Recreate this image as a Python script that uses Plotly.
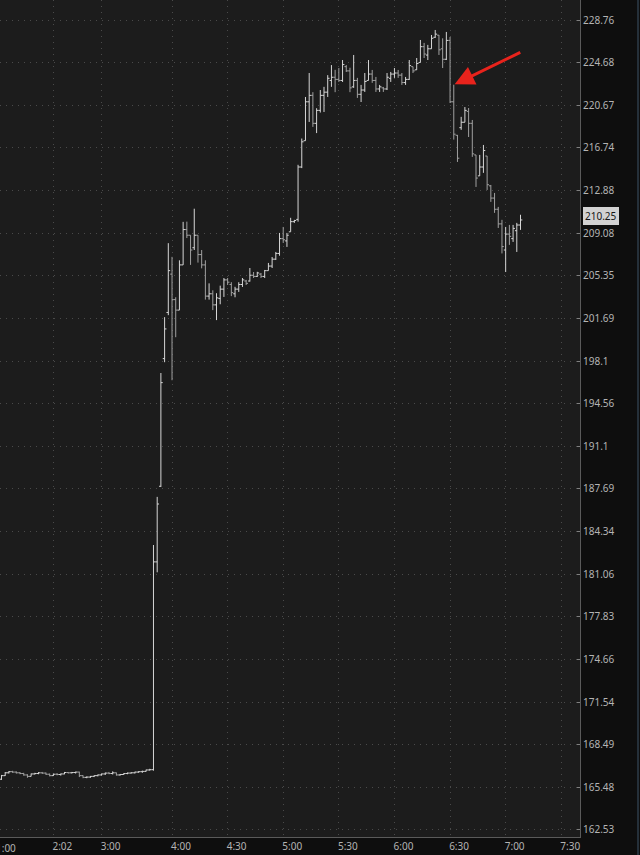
import math
import plotly.graph_objects as go

# ---------------- data ----------------
bar_index = list(range(141))

open_ = [166.05, 166.30, 166.50, 166.58, 166.55, 166.50, 166.45, 166.35, 166.25, 166.42,
         166.45, 166.50, 166.48, 166.40, 166.30, 166.40, 166.38, 166.42, 166.52, 166.50,
         166.52, 166.55, 166.30, 166.18, 166.20, 166.25, 166.30, 166.35, 166.42, 166.48,
         166.45, 166.50, 166.35, 166.38, 166.45, 166.48, 166.50, 166.55, 166.58, 166.60,
         166.70, 166.72, 182.00, 187.90, 198.30, 202.20, 205.50, 203.30, 202.40, 206.30,
         209.40, 208.90, 207.80, 208.90, 207.20, 206.30, 203.60, 203.80, 202.85, 203.40,
         204.20, 205.00, 204.60, 203.80, 204.20, 204.60, 204.90, 204.90, 205.40, 205.30,
         205.50, 205.30, 205.80, 206.20, 206.80, 207.30, 208.60, 208.40, 209.20, 210.10,
         210.30, 215.00, 217.40, 221.00, 221.60, 219.00, 220.20, 221.60, 221.90, 223.00,
         223.30, 223.10, 223.00, 224.30, 223.90, 222.40, 223.00, 221.70, 222.10, 223.00,
         223.60, 223.00, 222.20, 222.30, 222.20, 223.20, 223.60, 223.70, 223.50, 222.80,
         223.10, 224.30, 224.00, 224.70, 226.20, 225.40, 226.00, 227.10, 227.30, 226.00,
         225.00, 226.80, 221.00, 217.90, 218.60, 219.10, 220.10, 219.00, 216.10, 214.20,
         215.00, 216.00, 213.30, 212.20, 211.20, 209.90, 207.60, 209.00, 208.60, 209.30,
         209.80]

high = [166.35, 166.55, 166.62, 166.64, 166.60, 166.55, 166.50, 166.40, 166.45, 166.50,
        166.55, 166.56, 166.52, 166.45, 166.45, 166.48, 166.45, 166.56, 166.56, 166.56,
        166.58, 166.58, 166.32, 166.25, 166.28, 166.32, 166.38, 166.45, 166.52, 166.56,
        166.60, 166.52, 166.42, 166.48, 166.52, 166.55, 166.58, 166.62, 166.65, 166.72,
        166.78, 183.30, 187.06, 197.10, 201.80, 208.20, 207.00, 203.50, 206.70, 210.08,
        210.10, 208.90, 211.25, 208.90, 207.60, 206.70, 204.70, 204.10, 203.85, 204.50,
        205.16, 205.16, 204.80, 204.40, 204.80, 205.16, 205.00, 206.03, 205.68, 205.70,
        205.60, 205.86, 206.47, 206.99, 207.43, 209.10, 209.63, 209.10, 210.44, 210.26,
        215.20, 217.60, 221.45, 223.70, 221.90, 220.40, 222.10, 222.40, 223.50, 224.45,
        224.00, 224.17, 224.93, 224.45, 224.20, 225.41, 223.24, 222.58, 223.70, 224.93,
        223.99, 223.33, 222.58, 222.39, 223.70, 223.80, 224.17, 223.99, 223.70, 223.33,
        224.93, 224.30, 225.12, 226.84, 226.56, 226.37, 227.32, 227.80, 227.32, 227.00,
        227.61, 227.13, 222.60, 217.93, 219.60, 220.51, 220.42, 219.31, 216.10, 216.10,
        217.01, 216.00, 213.38, 212.66, 211.41, 210.26, 209.63, 209.81, 209.81, 209.99,
        210.71]

low = [166.00, 166.28, 166.45, 166.50, 166.45, 166.40, 166.30, 166.15, 166.25, 166.38,
       166.40, 166.42, 166.35, 166.25, 166.28, 166.32, 166.30, 166.40, 166.45, 166.45,
       166.45, 166.20, 166.12, 166.12, 166.15, 166.20, 166.25, 166.30, 166.35, 166.40,
       166.38, 166.30, 166.30, 166.35, 166.40, 166.45, 166.45, 166.50, 166.50, 166.58,
       166.65, 166.65, 181.20, 187.85, 198.00, 201.97, 196.50, 200.10, 202.40, 206.30,
       208.65, 206.30, 207.60, 206.50, 206.00, 203.30, 203.30, 202.40, 201.55, 202.90,
       203.53, 204.56, 203.60, 203.50, 203.96, 204.39, 204.56, 204.85, 205.16, 205.25,
       205.16, 205.16, 205.80, 206.03, 206.73, 207.10, 208.22, 207.87, 209.20, 209.99,
       210.10, 214.90, 217.40, 219.13, 218.67, 218.10, 220.00, 220.05, 221.45, 222.40,
       221.90, 222.86, 222.86, 223.80, 221.90, 222.30, 221.36, 220.98, 221.92, 223.00,
       222.77, 221.92, 221.92, 221.92, 222.10, 222.86, 223.24, 223.24, 222.58, 222.58,
       223.05, 223.70, 223.99, 224.70, 225.12, 224.93, 226.00, 227.04, 225.41, 224.17,
       224.93, 220.89, 217.50, 215.46, 218.40, 219.10, 217.74, 215.92, 213.20, 214.20,
       214.47, 212.93, 211.86, 210.88, 209.54, 207.30, 205.68, 208.05, 208.31, 207.43,
       209.37]

close = [166.30, 166.50, 166.58, 166.55, 166.50, 166.45, 166.35, 166.25, 166.42, 166.45,
         166.50, 166.48, 166.40, 166.30, 166.40, 166.38, 166.42, 166.52, 166.50, 166.52,
         166.55, 166.30, 166.18, 166.20, 166.25, 166.30, 166.35, 166.42, 166.48, 166.45,
         166.50, 166.35, 166.38, 166.45, 166.48, 166.50, 166.55, 166.58, 166.60, 166.70,
         166.72, 182.00, 186.50, 196.30, 200.80, 205.80, 203.30, 202.40, 206.30, 209.40,
         208.90, 207.60, 208.90, 207.20, 206.30, 203.60, 203.80, 202.85, 203.45, 204.20,
         205.00, 204.80, 203.90, 204.20, 204.60, 205.00, 204.70, 205.40, 205.30, 205.60,
         205.30, 205.80, 206.20, 206.80, 207.30, 208.60, 208.50, 208.90, 210.10, 210.20,
         215.00, 217.30, 221.00, 221.60, 219.00, 220.20, 221.60, 221.90, 223.20, 223.30,
         223.10, 223.00, 224.50, 223.90, 222.30, 223.00, 221.70, 222.10, 222.90, 223.60,
         223.00, 222.20, 222.40, 222.20, 223.30, 223.60, 223.70, 223.50, 222.80, 223.10,
         224.40, 223.90, 224.60, 226.20, 225.50, 226.00, 227.00, 227.40, 225.90, 225.00,
         226.80, 221.00, 218.00, 215.80, 219.10, 220.20, 219.00, 216.20, 214.00, 215.00,
         216.50, 213.40, 212.20, 211.20, 209.90, 207.90, 209.00, 208.80, 209.50, 209.80,
         210.25]

time_tick_bars = [14, 27, 46, 61, 76, 91, 106, 121, 136, 151]
time_tick_labels = ["2:02", "3:00", "4:00", "4:30", "5:00", "5:30", "6:00", "6:30", "7:00", "7:30"]
first_time_label = "1:00"

price_ticks = [228.76, 224.68, 220.67, 216.74, 212.88, 209.08, 205.35, 201.69, 198.1, 194.56,
               191.1, 187.69, 184.34, 181.06, 177.83, 174.66, 171.54, 168.49, 165.48, 162.53]
price_tick_labels = ["228.76", "224.68", "220.67", "216.74", "212.88", "209.08", "205.35",
                     "201.69", "198.1", "194.56", "191.1", "187.69", "184.34", "181.06",
                     "177.83", "174.66", "171.54", "168.49", "165.48", "162.53"]
last_price = 210.25
arrow_bar = 122

# ---------------- figure ----------------
FONT = "Noto Sans"
TXT = "#b4b4b4"
GRID = "#4a4a4a"

fig = go.Figure()
fig.add_trace(go.Ohlc(
    x=bar_index, open=open_, high=high, low=low, close=close,
    increasing=dict(line=dict(color="#d6d6d6", width=1)),
    decreasing=dict(line=dict(color="#a0a0a0", width=1)),
    tickwidth=0.5, showlegend=False, hoverinfo="skip",
))

fig.update_layout(
    width=640, height=855,
    margin=dict(l=0, r=60, t=0, b=18),
    paper_bgcolor="#0e0e0e",
    plot_bgcolor="#1c1c1c",
    font=dict(family=FONT, size=10, color=TXT),
    showlegend=False,
    xaxis=dict(
        range=[-0.4, 156.05],
        rangeslider=dict(visible=False),
        tickmode="array", tickvals=time_tick_bars, ticktext=time_tick_labels,
        ticks="", ticklabelshift=9,
        showgrid=True, gridcolor=GRID, griddash="1px,5px", gridwidth=1,
        showline=True, linecolor="#5a5a5a", linewidth=1,
        zeroline=False, fixedrange=True,
        tickfont=dict(family=FONT, size=10, color=TXT),
    ),
    yaxis=dict(
        type="log", side="right",
        range=[math.log10(162.05), math.log10(230.70)],
        tickmode="array", tickvals=price_ticks, ticktext=price_tick_labels,
        ticks="inside", ticklen=3, tickcolor="#808080",
        showgrid=True, gridcolor=GRID, griddash="1px,5px", gridwidth=1,
        showline=True, linecolor="#5a5a5a", linewidth=1,
        zeroline=False, fixedrange=True,
        tickfont=dict(family=FONT, size=10, color=TXT),
    ),
)

fig.add_annotation(
    x=1, xref="paper", xanchor="left", xshift=3,
    y=math.log10(last_price), yref="y", yshift=4,
    text=str(last_price), showarrow=False,
    bgcolor="#d2d2d2", bordercolor="#d2d2d2", borderpad=1,
    font=dict(family=FONT, size=10, color="#151515"),
)

fig.add_annotation(
    x=-6 / 580, xref="paper", xanchor="left",
    y=0, yref="paper", yanchor="top", yshift=-2,
    text=first_time_label, showarrow=False,
    font=dict(family=FONT, size=10, color=TXT),
)

fig.add_annotation(
    x=bar_index[arrow_bar], y=math.log10(high[arrow_bar]), xref="x", yref="y",
    ax=68, ay=-33, text="", showarrow=True,
    arrowhead=2, arrowsize=1.3, arrowwidth=3, arrowcolor="#e8231c", standoff=1,
)

fig.add_shape(type="line", xref="paper", yref="paper",
              x0=638 / 580, x1=638 / 580, y0=-18 / 837, y1=1,
              line=dict(color="#25303a", width=2))

fig.write_html(
    "out.html",
    config={"displayModeBar": False},
    post_script="document.body.style.margin='0';document.body.style.background='#0e0e0e';",
)
